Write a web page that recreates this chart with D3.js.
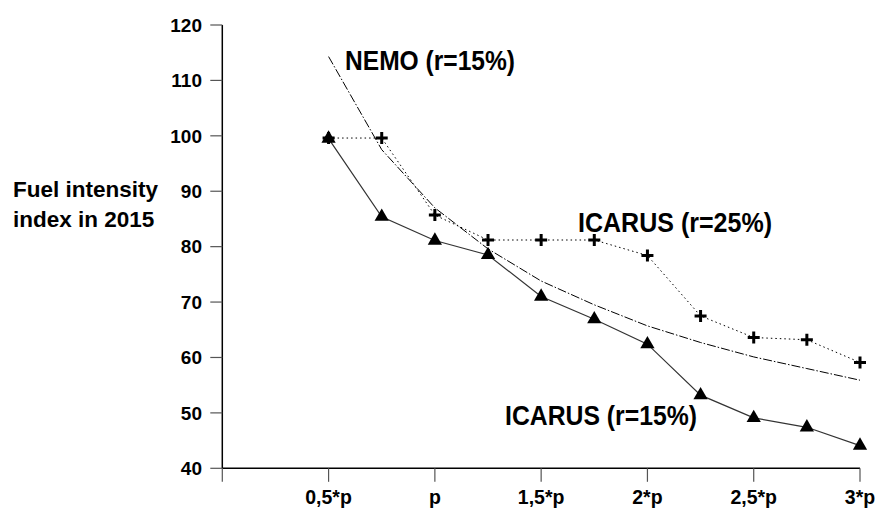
<!DOCTYPE html>
<html>
<head>
<meta charset="utf-8">
<script src="https://cdn.jsdelivr.net/npm/d3@7"></script>
<style>
  body { margin: 0; background: #fff; }
  svg { display: block; font-family: "Liberation Sans", Arial, sans-serif; font-weight: bold; }
</style>
</head>
<body>
<div id="chart"></div>
<script>
// price multiples on the x axis
var xValues = [0.5, 0.75, 1, 1.25, 1.5, 1.75, 2, 2.25, 2.5, 2.75, 3];
var xTicks = [0, 0.5, 1, 1.5, 2, 2.5, 3];
var xTickLabels = ["", "0,5*p", "p", "1,5*p", "2*p", "2,5*p", "3*p"];
var yTicks = [40, 50, 60, 70, 80, 90, 100, 110, 120];

// fuel intensity index values
var icarus15 = [99.5, 85.4, 81.1, 78.5, 71.0, 66.9, 62.4, 53.2, 49.1, 47.4, 44.1];
var icarus25 = [99.6, 99.6, 85.7, 81.2, 81.2, 81.2, 78.4, 67.5, 63.6, 63.2, 59.1];
var nemo = [114.3, 97.5, 87.0, 79.6, 73.8, 69.5, 65.7, 62.7, 60.1, 58.0, 55.9];

var svgWidth = 879;
var svgHeight = 515;

var svg = d3.select("#chart")
  .append("svg")
  .attr("width", svgWidth)
  .attr("height", svgHeight);

var xScale = d3.scaleLinear().domain([0, 3]).range([222.3, 860]);
var yScale = d3.scaleLinear().domain([40, 120]).range([468.3, 25]);

// y axis
var yAxis = svg.append("g");
yAxis.append("line")
  .attr("x1", xScale(0)).attr("x2", xScale(0))
  .attr("y1", yScale(120)).attr("y2", yScale(40))
  .attr("stroke", "#000").attr("stroke-width", 1.5);
yAxis.selectAll(".ytick").data(yTicks).enter().append("line")
  .attr("x1", xScale(0) - 12).attr("x2", xScale(0))
  .attr("y1", function(d) { return yScale(d); })
  .attr("y2", function(d) { return yScale(d); })
  .attr("stroke", "#555").attr("stroke-width", 1.2);
yAxis.selectAll(".ylab").data(yTicks).enter().append("text")
  .attr("x", 202)
  .attr("y", function(d) { return yScale(d) + 6.8; })
  .attr("text-anchor", "end")
  .attr("font-size", 19)
  .text(function(d) { return d; });

// x axis
var xAxis = svg.append("g");
xAxis.append("line")
  .attr("x1", xScale(0)).attr("x2", xScale(3))
  .attr("y1", yScale(40)).attr("y2", yScale(40))
  .attr("stroke", "#000").attr("stroke-width", 1.5);
xAxis.selectAll(".xtick").data(xTicks).enter().append("line")
  .attr("x1", function(d) { return xScale(d); })
  .attr("x2", function(d) { return xScale(d); })
  .attr("y1", yScale(40)).attr("y2", yScale(40) + 13.5)
  .attr("stroke", "#555").attr("stroke-width", 1.2);
xAxis.selectAll(".xlab").data(xTicks).enter().append("text")
  .attr("x", function(d) { return xScale(d); })
  .attr("y", 504)
  .attr("text-anchor", "middle")
  .attr("font-size", 19.5)
  .text(function(d, i) { return xTickLabels[i]; });

// axis title
var title = svg.append("text").attr("font-size", 22.5);
title.append("tspan").attr("x", 13).attr("y", 197).text("Fuel intensity");
title.append("tspan").attr("x", 13).attr("y", 226.7).text("index in 2015");

function lineFor(values) {
  return d3.line()
    .x(function(d, i) { return xScale(xValues[i]); })
    .y(function(d) { return yScale(d); })(values);
}

// NEMO dash-dot curve
svg.append("path")
  .attr("d", lineFor(nemo))
  .attr("fill", "none")
  .attr("stroke", "#000")
  .attr("stroke-width", 1)
  .attr("stroke-dasharray", "9,2,1.5,2");

// ICARUS r=25% dotted
svg.append("path")
  .attr("d", lineFor(icarus25))
  .attr("fill", "none")
  .attr("stroke", "#000")
  .attr("stroke-width", 1)
  .attr("stroke-dasharray", "1.5,3");

// ICARUS r=15% solid
svg.append("path")
  .attr("d", lineFor(icarus15))
  .attr("fill", "none")
  .attr("stroke", "#333")
  .attr("stroke-width", 1.2);

// plus markers
var plus = svg.selectAll(".plus").data(icarus25).enter().append("g")
  .attr("transform", function(d, i) {
    return "translate(" + xScale(xValues[i]) + "," + yScale(d) + ")";
  });
plus.append("path")
  .attr("d", "M-6,0H6M0,-6V6")
  .attr("stroke", "#000")
  .attr("stroke-width", 3);

// triangle markers
svg.selectAll(".tri").data(icarus15).enter().append("path")
  .attr("d", d3.symbol().type(d3.symbolTriangle).size(88))
  .attr("transform", function(d, i) {
    return "translate(" + xScale(xValues[i]) + "," + yScale(d) + ")";
  })
  .attr("fill", "#000");

// series labels
var labels = [
  { text: "NEMO (r=15%)", x: 345, y: 70, w: 170 },
  { text: "ICARUS (r=25%)", x: 578, y: 231.7, w: 194 },
  { text: "ICARUS (r=15%)", x: 505, y: 425, w: 192 }
];
svg.selectAll(".serieslab").data(labels).enter().append("text")
  .attr("x", function(d) { return d.x; })
  .attr("y", function(d) { return d.y; })
  .attr("font-size", 27)
  .attr("textLength", function(d) { return d.w; })
  .attr("lengthAdjust", "spacingAndGlyphs")
  .text(function(d) { return d.text; });
</script>
</body>
</html>
